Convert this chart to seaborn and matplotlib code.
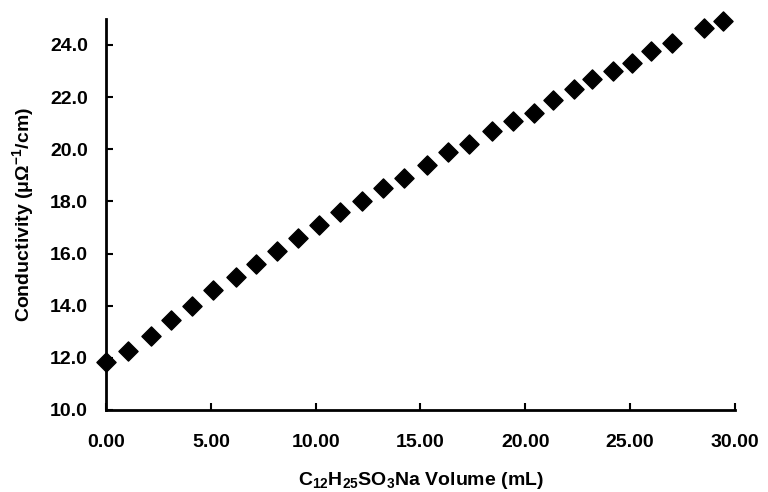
import matplotlib
matplotlib.use("Agg")
import matplotlib.pyplot as plt
import seaborn as sns
import pandas as pd
from matplotlib.ticker import FormatStrFormatter

volume_ml = [0, 1.05, 2.15, 3.1, 4.1, 5.1, 6.2, 7.15, 8.15, 9.15, 10.15, 11.15,
             12.2, 13.2, 14.2, 15.3, 16.3, 17.3, 18.4, 19.4, 20.4, 21.3, 22.3,
             23.2, 24.2, 25.1, 26.0, 27.0, 28.5, 29.45]
conductivity = [11.85, 12.27, 12.85, 13.46, 14.0, 14.6, 15.1, 15.6, 16.1, 16.6,
                17.1, 17.6, 18.0, 18.5, 18.9, 19.4, 19.9, 20.2, 20.7, 21.1, 21.4,
                21.9, 22.3, 22.7, 23.0, 23.3, 23.77, 24.08, 24.65, 24.92]
x_ticks = [0, 5, 10, 15, 20, 25, 30]
y_ticks = [10, 12, 14, 16, 18, 20, 22, 24]

sns.set_style("ticks")
plt.rcParams['font.family'] = ['Liberation Sans', 'DejaVu Sans']
plt.rcParams['font.weight'] = 'bold'
plt.rcParams['text.color'] = 'black'
plt.rcParams['axes.labelcolor'] = 'black'
plt.rcParams['xtick.color'] = 'black'
plt.rcParams['ytick.color'] = 'black'
plt.rcParams['mathtext.fontset'] = 'custom'
plt.rcParams['mathtext.rm'] = 'Liberation Sans:bold'
plt.rcParams['mathtext.it'] = 'Liberation Sans:bold'
plt.rcParams['mathtext.bf'] = 'Liberation Sans:bold'
plt.rcParams['mathtext.default'] = 'rm'

df = pd.DataFrame({"volume": volume_ml, "cond": conductivity})

fig = plt.figure(figsize=(7.68, 4.92), dpi=100)
ax = fig.add_axes([0.138, 0.1667, 0.819, 0.795])

sns.scatterplot(data=df, x="volume", y="cond", ax=ax, marker="D", s=95,
                color="black", edgecolor="black", linewidth=1, clip_on=False,
                zorder=3)

ax.set_xlim(0, 30)
ax.set_ylim(10, 25)
ax.set_xticks(x_ticks)
ax.set_yticks(y_ticks)
ax.xaxis.set_major_formatter(FormatStrFormatter('%.2f'))
ax.yaxis.set_major_formatter(FormatStrFormatter('%.1f'))
ax.tick_params(direction='in', length=5, width=1.5, labelsize=14,
               colors='black')
ax.tick_params(axis='x', pad=17)
ax.tick_params(axis='y', pad=13)
for lbl in ax.get_xticklabels() + ax.get_yticklabels():
    lbl.set_fontweight('bold')

for side in ['top', 'right']:
    ax.spines[side].set_visible(False)
for side in ['left', 'bottom']:
    ax.spines[side].set_linewidth(2)
    ax.spines[side].set_color('black')

ax.set_xlabel(r"C$_{12}$H$_{25}$SO$_3$Na Volume (mL)", fontsize=14,
              fontweight='bold', labelpad=14)
ax.set_ylabel(r"Conductivity (μΩ$^{-1}$/cm)", fontsize=14, fontweight='bold',
              labelpad=10)

fig.savefig("out.png", dpi=100)
